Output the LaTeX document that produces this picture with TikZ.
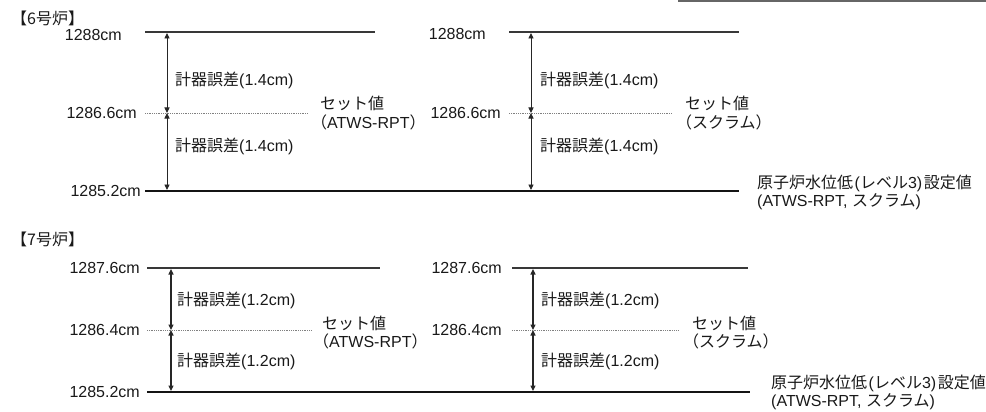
\documentclass[tikz,border=0pt]{standalone}
\usepackage{fontspec}
\setmainfont{Liberation Sans}
\newfontfamily\jpf{Noto Sans CJK JP}
\newcommand{\jpt}[1]{{\jpf #1}}
\usetikzlibrary{arrows.meta}
\begin{document}
\begin{tikzpicture}[x=1pt,y=-1pt,
  lvl/.style={draw=black!78,line width=1.7pt},
  baseln/.style={draw=black!92,line width=2.7pt},
  setline/.style={draw=black!50,line width=0.7pt,dash pattern=on 0.9pt off 0.9pt},
  dimA/.style={draw=black!85,line width=0.9pt,{Triangle[length=5.5pt,width=5pt]}-{Triangle[length=5.5pt,width=5pt]}},
  dimB/.style={dimA,line width=1.2pt},
  txt/.style={inner sep=0pt,font=\fontsize{16}{18}\selectfont,text=black!90},
  val/.style={txt,anchor=east},
  note/.style={txt,anchor=west}]
\useasboundingbox (0,0) rectangle (986,412);

% cut-off frame at top right
\coordinate (fr1) at (678,1);
\coordinate (fr2) at (986,1);
\draw[draw=black!60,line width=1.8pt] (fr1) -- (fr2);

% ================= Unit 6 =================
\node[note] (h6) at (11,18) {\jpt{【6号炉】}};

\coordinate (L6t1) at (145,32);  \coordinate (L6t2) at (375,32);
\coordinate (R6t1) at (509,32);  \coordinate (R6t2) at (739,32);
\coordinate (L6s1) at (145,113); \coordinate (L6s2) at (308,113);
\coordinate (R6s1) at (509,113); \coordinate (R6s2) at (672,113);
\coordinate (B6a)  at (145,191); \coordinate (B6b)  at (739,191);

\draw[lvl] (L6t1) -- (L6t2);
\draw[lvl] (R6t1) -- (R6t2);
\draw[setline] (L6s1) -- (L6s2);
\draw[setline] (R6s1) -- (R6s2);
\draw[baseln] (B6a) -- (B6b);

\coordinate (L6at) at (167,33);  \coordinate (L6am) at (167,113); \coordinate (L6ab) at (167,190);
\coordinate (R6at) at (531,33);  \coordinate (R6am) at (531,113); \coordinate (R6ab) at (531,190);
\draw[dimA] (L6at) -- (L6am);
\draw[dimA] (L6am) -- (L6ab);
\draw[dimA] (R6at) -- (R6am);
\draw[dimA] (R6am) -- (R6ab);

\node[val] (v6a) at (122,35)  {1288cm};
\node[val] (v6b) at (137,113) {1286.6cm};
\node[val] (v6c) at (141,191) {1285.2cm};
\node[val] (v6d) at (486,34)  {1288cm};
\node[val] (v6e) at (501,113) {1286.6cm};

\node[note] (e6a) at (175,80)  {\jpt{計器誤差}(1.4cm)};
\node[note] (e6b) at (175,146) {\jpt{計器誤差}(1.4cm)};
\node[note] (e6c) at (540,80)  {\jpt{計器誤差}(1.4cm)};
\node[note] (e6d) at (540,146) {\jpt{計器誤差}(1.4cm)};

\node[note] (s6a) at (320,103) {\jpt{セット値}};
\node[note] (s6b) at (311,122) {\jpt{（}ATWS-RPT\jpt{）}};
\node[note] (s6c) at (685,103) {\jpt{セット値}};
\node[note] (s6d) at (676,122) {\jpt{（スクラム）}};

\node[note] (r6a) at (757,183) {\jpt{原子炉水位低}\hspace{1.5pt}(\jpt{レベル}3)\hspace{1.5pt}\jpt{設定値}};
\node[note] (r6b) at (757,202) {(ATWS-RPT, \jpt{スクラム})};

% ================= Unit 7 =================
\node[note] (h7) at (11,239) {\jpt{【7号炉】}};

\coordinate (L7t1) at (147,268); \coordinate (L7t2) at (380,268);
\coordinate (R7t1) at (512,268); \coordinate (R7t2) at (748,268);
\coordinate (L7s1) at (147,330); \coordinate (L7s2) at (312,330);
\coordinate (R7s1) at (512,330); \coordinate (R7s2) at (678,330);
\coordinate (B7a)  at (147,392); \coordinate (B7b)  at (750,392);

\draw[lvl] (L7t1) -- (L7t2);
\draw[lvl] (R7t1) -- (R7t2);
\draw[setline] (L7s1) -- (L7s2);
\draw[setline] (R7s1) -- (R7s2);
\draw[baseln] (B7a) -- (B7b);

\coordinate (L7at) at (171,269); \coordinate (L7am) at (171,330); \coordinate (L7ab) at (171,391);
\coordinate (R7at) at (533,269); \coordinate (R7am) at (533,330); \coordinate (R7ab) at (533,391);
\draw[dimB] (L7at) -- (L7am);
\draw[dimB] (L7am) -- (L7ab);
\draw[dimB] (R7at) -- (R7am);
\draw[dimB] (R7am) -- (R7ab);

\node[val] (v7a) at (140,268) {1287.6cm};
\node[val] (v7b) at (140,330) {1286.4cm};
\node[val] (v7c) at (140,392) {1285.2cm};
\node[val] (v7d) at (502,268) {1287.6cm};
\node[val] (v7e) at (502,330) {1286.4cm};

\node[note] (e7a) at (177,300) {\jpt{計器誤差}(1.2cm)};
\node[note] (e7b) at (177,361) {\jpt{計器誤差}(1.2cm)};
\node[note] (e7c) at (541,300) {\jpt{計器誤差}(1.2cm)};
\node[note] (e7d) at (541,361) {\jpt{計器誤差}(1.2cm)};

\node[note] (s7a) at (322,323) {\jpt{セット値}};
\node[note] (s7b) at (313,341) {\jpt{（}ATWS-RPT\jpt{）}};
\node[note] (s7c) at (692,323) {\jpt{セット値}};
\node[note] (s7d) at (683,341) {\jpt{（スクラム）}};

\node[note] (r7a) at (771,383) {\jpt{原子炉水位低}\hspace{1.5pt}(\jpt{レベル}3)\hspace{1.5pt}\jpt{設定値}};
\node[note] (r7b) at (771,402) {(ATWS-RPT, \jpt{スクラム})};
\end{tikzpicture}
\end{document}
